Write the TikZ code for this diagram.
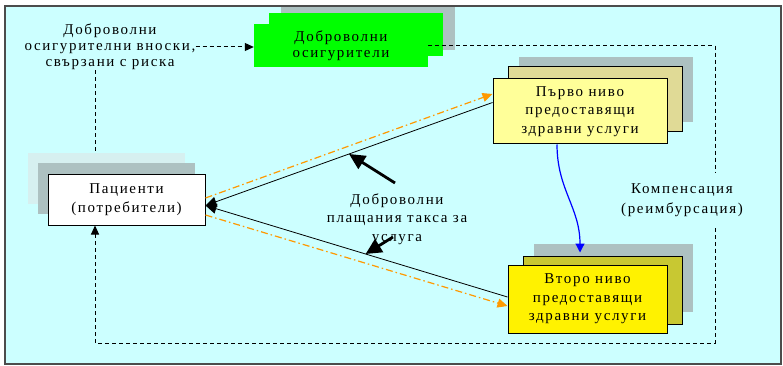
\documentclass[tikz,border=0pt]{standalone}
\usepackage{fontspec}
\setmainfont{Liberation Serif}[LetterSpace=11]
\usetikzlibrary{arrows.meta,positioning,shadows,calc}

\definecolor{bgcyan}{HTML}{CCFFFF}
\definecolor{shadegrey}{HTML}{ADC1C1}
\definecolor{shadelight}{HTML}{D6F0F0}
\definecolor{insgreen}{HTML}{00FF00}
\definecolor{paleyellow}{HTML}{FFFF99}
\definecolor{khaki}{HTML}{E0DA96}
\definecolor{oliveshade}{HTML}{C8C832}
\definecolor{payorange}{HTML}{FF9900}

\begin{document}
\begin{tikzpicture}[x=1pt,y=-1pt,font=\fontsize{15}{18.5}\selectfont,
  box/.style={align=center,inner sep=0pt},
  dashline/.style={line width=1pt,dash pattern=on 4pt off 3pt},
  flow/.style={line width=0.8pt,-{Triangle[length=11pt,width=10pt]}},
  payflow/.style={payorange,line width=1.2pt,dash pattern=on 7pt off 3pt on 1.5pt off 3pt,
    -{Triangle[length=10pt,width=9pt]}},
  boldarrow/.style={line width=2.8pt,-{Triangle[length=16pt,width=15pt]}}]
\useasboundingbox (0,0) rectangle (783,366);
\draw[fill=bgcyan,draw=black!70,line width=1.2pt] (5,6) rectangle (781,364);

\node[box,fill=insgreen,minimum width=174pt,minimum height=43pt,
  general shadow={fill=shadegrey,shadow xshift=27pt,shadow yshift=17pt},
  general shadow={fill=insgreen,shadow xshift=15pt,shadow yshift=11pt},
  font=\fontsize{15}{16}\selectfont] (green) at (341,45.5) {Доброволни\\осигурители};
\node[box,font=\fontsize{15}{16}\selectfont] (vnoski) at (110,47)
  {Доброволни\\осигурителни вноски,\\свързани с риска};
\node[box,draw,line width=1pt,fill=paleyellow,minimum width=174pt,minimum height=65pt,
  general shadow={fill=shadegrey,shadow xshift=26pt,shadow yshift=22pt},
  general shadow={fill=khaki,draw,line width=1pt,shadow xshift=15pt,shadow yshift=12pt}]
  (lvlone) at (580,111.5) {Първо ниво\\предоставящи\\здравни услуги};
\node[box,draw,line width=1pt,fill=yellow,minimum width=159pt,minimum height=68pt,
  general shadow={fill=shadegrey,shadow xshift=26pt,shadow yshift=21pt},
  general shadow={fill=oliveshade,draw,line width=1pt,shadow xshift=15pt,shadow yshift=9pt}]
  (lvltwo) at (587.5,299) {Второ ниво\\предоставящи\\здравни услуги};
\node[box,draw,line width=1pt,fill=white,minimum width=157pt,minimum height=51pt,
  general shadow={fill=shadelight,shadow xshift=-20pt,shadow yshift=21pt},
  general shadow={fill=shadegrey,shadow xshift=-10pt,shadow yshift=11pt},
  font=\fontsize{15}{19}\selectfont] (pat) at (126.5,199.5) {Пациенти\\(потребители)};
\node[box,minimum height=56pt,font=\fontsize{15}{20}\selectfont] (komp) at (682,200)
  {Компенсация\\(реимбурсация)};
\node[box] (pay) at (397,219) {Доброволни\\плащания такса за\\услуга};

\coordinate (patin) at ([yshift=-6pt]pat.east);
\coordinate (onein) at ([yshift=9pt]lvlone.west);
\coordinate (twoin) at ([yshift=2pt]lvltwo.west);
\coordinate (cb) at (715,343);

\draw[dashline,-{Triangle[length=9pt,width=8pt]}] (vnoski.east) -- (vnoski.east -| green.west);
\draw[dashline] ([xshift=-15pt]vnoski.south) -- ([xshift=-31.5pt,yshift=21pt]pat.north);
\draw[dashline] (green.east) -| ([xshift=33pt]komp.north);
\draw[dashline,-{Triangle[length=9pt,width=8pt]}] ([xshift=33pt]komp.south) -- (cb)
  -| ([xshift=-31.5pt]pat.south);

\draw[flow] (onein) -- (patin);
\draw[flow] (twoin) -- (patin);
\draw[payflow] ([yshift=1.5pt]pat.east) -- ([yshift=17.5pt]lvlone.west);
\draw[payflow] ([yshift=-15.5pt]pat.east) -- ([yshift=-7pt]lvltwo.west);

\draw[boldarrow] ([shift={(-2,-36)}]pay.center) -- ($(patin)!0.5!(onein)$);
\draw[boldarrow] ([shift={(-4,18)}]pay.center) -- ($(patin)!0.53!(twoin)$);

\draw[blue,line width=1.2pt,-{Triangle[length=9pt,width=9pt]}] ([xshift=-23pt]lvlone.south)
  .. controls +(0,45) and +(0,-45) .. ([shift={(-7.5,-12)}]lvltwo.north);
\end{tikzpicture}
\end{document}
